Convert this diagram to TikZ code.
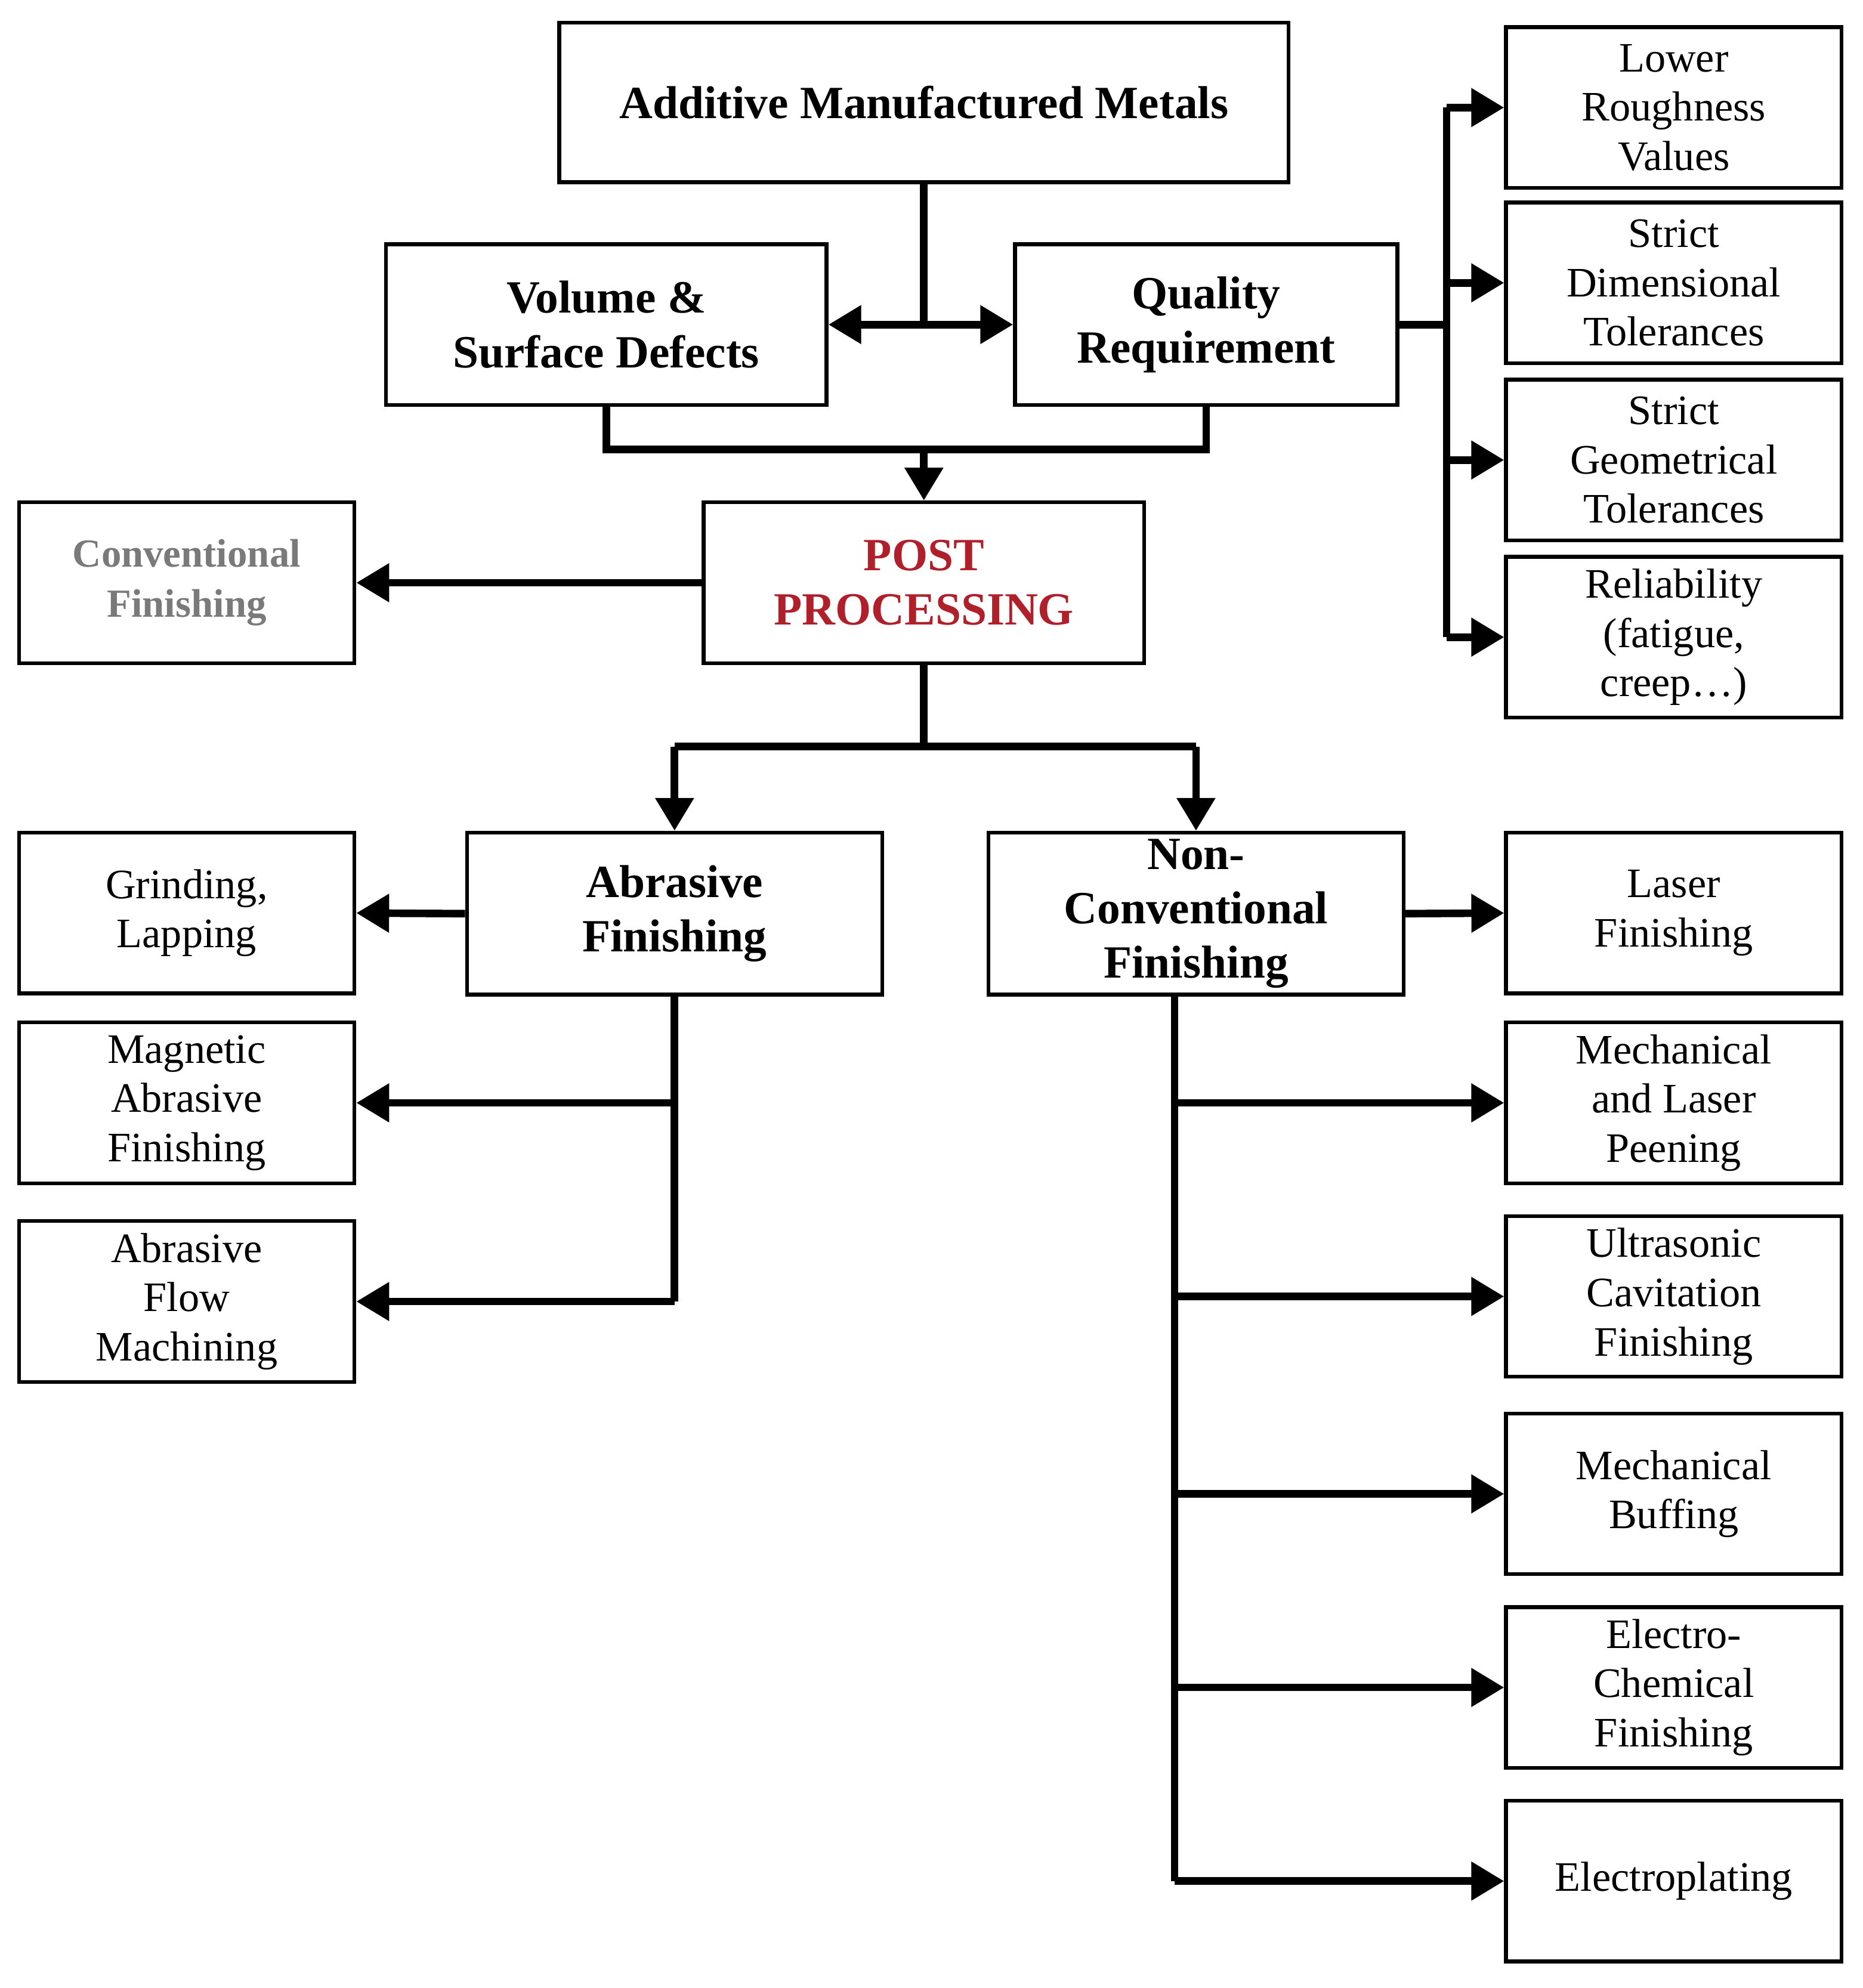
\documentclass[tikz,border=0pt]{standalone}
\usepackage{fontspec}
\setmainfont{Liberation Serif}
\usetikzlibrary{arrows.meta}
\definecolor{ppred}{HTML}{B0202A}
\definecolor{cfgray}{HTML}{7A7A7A}
\begin{document}
\begin{tikzpicture}[x=0.021216cm,y=-0.021216cm,line join=miter,
  box/.style={draw,line width=1.8pt,align=center,inner sep=0pt,font=\fontsize{20}{23.5}\selectfont},
  bbox/.style={box,font=\fontsize{22}{26}\selectfont\bfseries},
  rc/.style={box,minimum width=5.622cm,minimum height=2.694cm},
  conn/.style={line width=3.6pt},
  arr/.style={conn,-{Triangle[length=0.55cm,width=0.62cm]}},
  darr/.style={conn,{Triangle[length=0.55cm,width=0.62cm]}-{Triangle[length=0.55cm,width=0.62cm]}}]
\useasboundingbox (0,0) rectangle (1472,1571);
\node[bbox,minimum width=12.22cm,minimum height=2.673cm] (amm) at (730,81) {Additive Manufactured Metals};
\node[bbox,minimum width=7.383cm,minimum height=2.694cm] (vsd) at (479,256.5) {Volume \&\\Surface Defects};
\node[bbox,minimum width=6.407cm,minimum height=2.694cm] (qr) at (953,256.5) {Quality\\Requirement};
\node[bbox,minimum width=7.383cm,minimum height=2.694cm,text=ppred] (pp) at (730,460.5) {POST\\PROCESSING};
\node[bbox,minimum width=5.622cm,minimum height=2.694cm,text=cfgray,font=\fontsize{19}{24}\selectfont\bfseries] (cf) at (147.5,460.5) {Conventional\\Finishing};
\node[bbox,minimum width=6.959cm,minimum height=2.716cm] (af) at (533,722) {Abrasive\\Finishing};
\node[bbox,minimum width=6.959cm,minimum height=2.716cm] (ncf) at (945,722) {Non-\\Conventional\\Finishing};
\node[rc] (lrv) at (1322.5,85) {Lower\\Roughness\\Values};
\node[rc] (sdt) at (1322.5,223.5) {Strict\\Dimensional\\Tolerances};
\node[rc] (sgt) at (1322.5,363.5) {Strict\\Geometrical\\Tolerances};
\node[rc] (rel) at (1322.5,503.5) {Reliability\\(fatigue,\\creep\dots)};
\node[rc] (gl) at (147.5,721.5) {Grinding,\\Lapping};
\node[rc] (maf) at (147.5,871.5) {Magnetic\\Abrasive\\Finishing};
\node[rc] (afm) at (147.5,1028.5) {Abrasive\\Flow\\Machining};
\node[rc] (lf) at (1322.5,721.5) {Laser\\Finishing};
\node[rc] (mlp) at (1322.5,871.5) {Mechanical\\and Laser\\Peening};
\node[rc] (ucf) at (1322.5,1024.5) {Ultrasonic\\Cavitation\\Finishing};
\node[rc] (mb) at (1322.5,1180.5) {Mechanical\\Buffing};
\node[rc] (ecf) at (1322.5,1333.5) {Electro-\\Chemical\\Finishing};
\node[rc] (ep) at (1322.5,1486.5) {Electroplating};
% top
\coordinate (j1) at (730,255);
\draw[conn] (amm.south) -- (j1);
\draw[darr] (vsd.east) -- (qr.west);
\coordinate (j2) at (730,355);
\draw[conn] (vsd.south) -- (vsd.south |- j2) -- (qr.south |- j2) -- (qr.south);
\draw[arr] (j2) -- (pp.north);
% quality branches
\coordinate (q) at (1143,256.5);
\draw[conn] (qr.east) -- (q);
\draw[conn] (q |- lrv.west) -- (q |- rel.west);
\foreach \n in {lrv,sdt,sgt,rel} \draw[arr] (q |- \n.west) -- (\n.west);
% post processing
\draw[arr] (pp.west) -- (cf.east);
\coordinate (j3) at (730,590);
\draw[conn] (pp.south) -- (j3);
\draw[conn] (af.north |- j3) -- (ncf.north |- j3);
\draw[arr] (af.north |- j3) -- (af.north);
\draw[arr] (ncf.north |- j3) -- (ncf.north);
% abrasive
\draw[arr] (af.west) -- (gl.east);
\draw[conn] (af.south) -- (af.south |- afm.east);
\draw[arr] (af.south |- maf.east) -- (maf.east);
\draw[arr] (af.south |- afm.east) -- (afm.east);
% non-conventional
\draw[arr] (ncf.east) -- (lf.west);
\coordinate (n) at (928,786);
\draw[conn] (n) -- (n |- ep.west);
\foreach \n in {mlp,ucf,mb,ecf,ep} \draw[arr] (n |- \n.west) -- (\n.west);
\end{tikzpicture}
\end{document}
